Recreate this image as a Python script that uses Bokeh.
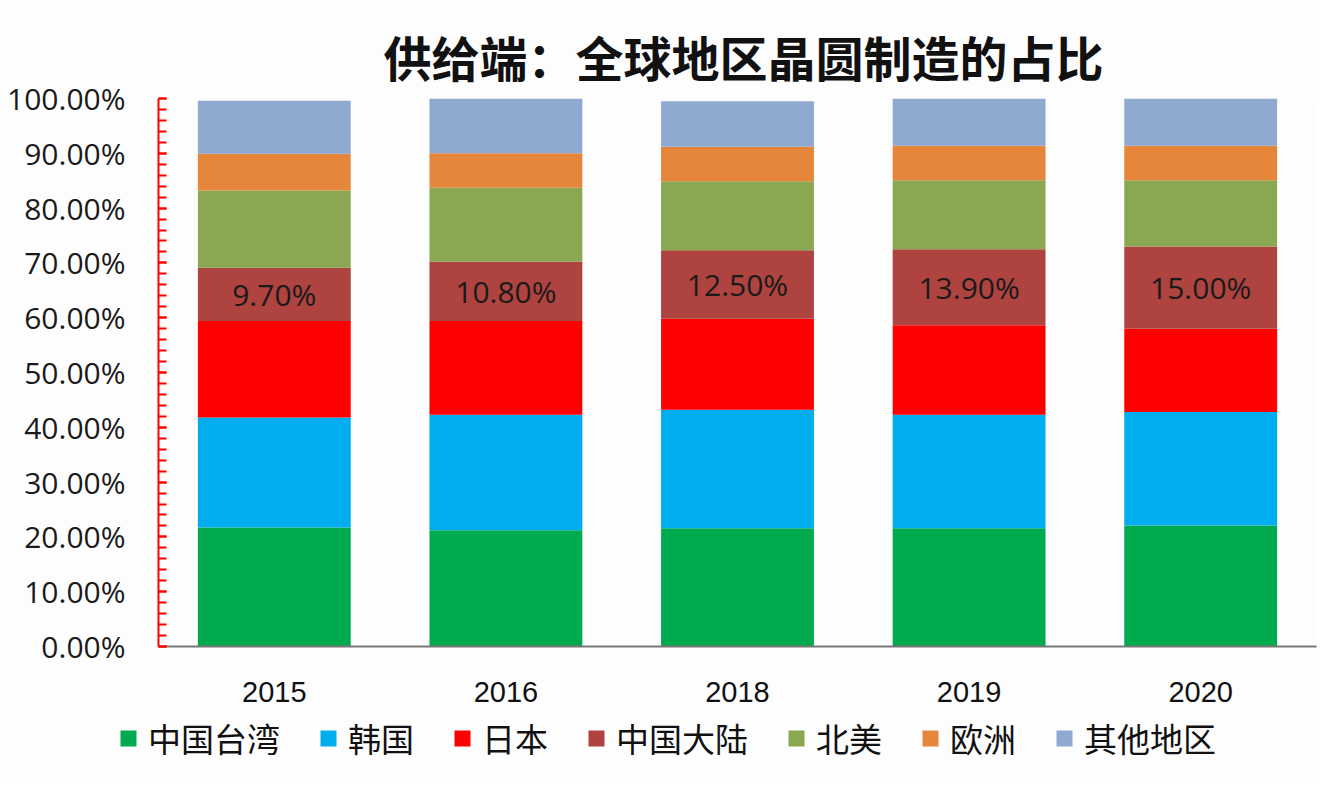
from bokeh.plotting import figure
from bokeh.layouts import column
from bokeh.models import (ColumnDataSource, FactorRange, Range1d, SingleIntervalTicker,
                          PrintfTickFormatter, LabelSet, Legend, LegendItem)
from bokeh.core.properties import value
from bokeh.embed import file_html
from bokeh.resources import INLINE
import numpy as np

years = ["2015", "2016", "2018", "2019", "2020"]
regions = ["中国台湾", "韩国", "日本", "中国大陆", "北美", "欧洲", "其他地区"]
taiwan = [21.7, 21.2, 21.6, 21.6, 22.1]
korea = [20.1, 21.1, 21.6, 20.7, 20.7]
japan = [17.6, 17.1, 16.6, 16.3, 15.2]
mainland = [9.7, 10.8, 12.5, 13.9, 15.0]
north_america = [14.1, 13.5, 12.6, 12.6, 12.1]
europe = [6.7, 6.3, 6.3, 6.3, 6.3]
others = [9.7, 10.2, 8.3, 8.8, 8.8]
colors = ["#00AA4F", "#00ADEE", "#FF0000", "#AE433F", "#8AA751", "#E5863A", "#8FA9D1"]

BG = "#fdfdfe"
keys = ["tw", "kr", "jp", "cn", "na", "eu", "ot"]
series = [taiwan, korea, japan, mainland, north_america, europe, others]
data = {"year": years}
for k, s in zip(keys, series):
    data[k] = s
source = ColumnDataSource(data)

p = figure(x_range=FactorRange(*years, range_padding=0), y_range=Range1d(0, 100),
           width=1318, height=714, output_backend="svg", toolbar_location=None,
           min_border_left=158, min_border_right=2, min_border_top=98, min_border_bottom=68,
           background_fill_color=BG, border_fill_color=BG)
p.outline_line_color = None
p.xgrid.visible = False
p.ygrid.visible = False
p.frame_align = False

renderers = p.vbar_stack(keys, x="year", width=0.66, color=colors, line_color=None, source=source)

# data labels for 中国大陆
base = np.array(taiwan) + np.array(korea) + np.array(japan)
mid = base + np.array(mainland) / 2.0
lab_src = ColumnDataSource(dict(year=years, y=list(mid), txt=["%.2f%%" % v for v in mainland]))
labels = LabelSet(x="year", y="y", text="txt", source=lab_src, text_align="center",
                  text_baseline="middle", text_font_size="30px", text_font=value("Open Sans"),
                  text_color="#1a1a1a")
p.add_layout(labels)

# title
p.title.text = "供给端：全球地区晶圆制造的占比"
p.title.align = "left"
p.title.offset = 225
p.title.standoff = 15
p.title.text_font = "Noto Sans CJK SC"
p.title.text_font_size = "48px"
p.title.text_font_style = "bold"
p.title.text_color = "#111111"

# y axis
ya = p.yaxis[0]
ya.ticker = SingleIntervalTicker(interval=10, num_minor_ticks=5)
ya.formatter = PrintfTickFormatter(format="%.2f%%")
ya.axis_line_color = "red"
ya.axis_line_width = 2
ya.major_tick_line_color = "red"
ya.major_tick_line_width = 2
ya.minor_tick_line_color = "red"
ya.minor_tick_line_width = 2
ya.major_tick_in = 8
ya.major_tick_out = 0
ya.minor_tick_in = 8
ya.minor_tick_out = 0
ya.major_label_standoff = 33
ya.major_label_text_font = "Open Sans"
ya.major_label_text_font_size = "30px"
ya.major_label_text_color = "#1a1a1a"

# x axis
xa = p.xaxis[0]
xa.axis_line_color = "#777777"
xa.axis_line_width = 2
xa.major_tick_line_color = None
xa.minor_tick_line_color = None
xa.major_tick_out = 0
xa.major_label_standoff = 35
xa.major_label_text_font = "Liberation Sans"
xa.major_label_text_font_size = "29px"
xa.major_label_text_color = "#111111"

# legend strip (separate figure so the legend can sit left of the plot frame)
leg = figure(width=1318, height=70, output_backend="svg", toolbar_location=None,
             x_range=Range1d(0, 1), y_range=Range1d(0, 1),
             x_axis_type=None, y_axis_type=None,
             min_border_left=0, min_border_right=0, min_border_top=0, min_border_bottom=0,
             background_fill_color=BG, border_fill_color=BG)
leg.outline_line_color = None
leg.xgrid.visible = False
leg.ygrid.visible = False
leg.frame_align = False
# zero-size swatch renderers (only used to draw legend keys)
swatches = [leg.vbar(x=[0.5], bottom=[0], top=[0], width=0, color=c, line_color=None)
            for c in colors]
items = [LegendItem(label=r, renderers=[rd]) for r, rd in zip(regions, swatches)]
legend = Legend(items=items, orientation="horizontal", location=(118, 22),
                glyph_width=20, glyph_height=20, label_standoff=10, spacing=38,
                padding=0, margin=0, border_line_color=None, background_fill_alpha=0,
                label_text_font="Noto Sans CJK SC", label_text_font_size="33px",
                label_text_color="#111111")
leg.add_layout(legend, "center")

layout = column(p, leg, spacing=0)
open("out.html", "w").write(file_html(layout, INLINE))
